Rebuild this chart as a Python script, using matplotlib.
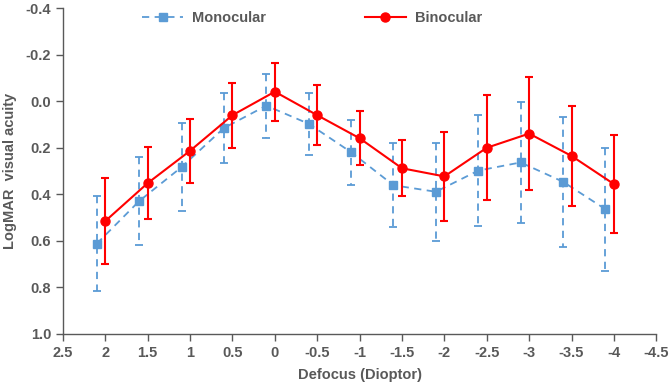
import matplotlib
matplotlib.use("Agg")
import matplotlib.pyplot as plt
from matplotlib.lines import Line2D
import numpy as np

plt.rcParams['font.family'] = ['Liberation Sans', 'DejaVu Sans']

defocus = [2, 1.5, 1, 0.5, 0, -0.5, -1, -1.5, -2, -2.5, -3, -3.5, -4]
mono_mean = [0.612, 0.429, 0.283, 0.115, 0.019, 0.097, 0.219, 0.361, 0.389, 0.298, 0.263, 0.346, 0.464]
mono_err = [0.205, 0.19, 0.19, 0.15, 0.138, 0.133, 0.14, 0.18, 0.21, 0.24, 0.26, 0.28, 0.265]
bino_mean = [0.515, 0.352, 0.213, 0.06, -0.041, 0.06, 0.159, 0.288, 0.323, 0.2, 0.139, 0.235, 0.356]
bino_err = [0.185, 0.156, 0.138, 0.14, 0.125, 0.128, 0.115, 0.12, 0.192, 0.226, 0.242, 0.214, 0.212]
xticks = [2.5, 2, 1.5, 1, 0.5, 0, -0.5, -1, -1.5, -2, -2.5, -3, -3.5, -4, -4.5]
yticks = [-0.4, -0.2, 0.0, 0.2, 0.4, 0.6, 0.8, 1.0]

mono_x = np.array(defocus) + 0.1

fig = plt.figure(figsize=(6.69, 3.87), dpi=100)
ax = fig.add_axes([0.094, 0.137, 0.887, 0.842])

blue = '#5B9BD5'
red = '#FF0000'
gray = '#595959'
dash = (0, (4, 3))

eb1 = ax.errorbar(mono_x, mono_mean, yerr=mono_err, color=blue, marker='s', markersize=6,
                  linestyle=dash, linewidth=1.3, capsize=3, elinewidth=1.3,
                  capthick=1.3, zorder=2)
eb1[2][0].set_linestyle(dash)
eb2 = ax.errorbar(defocus, bino_mean, yerr=bino_err, color=red, marker='o', markersize=6.5,
                  linestyle='-', linewidth=1.5, capsize=3, elinewidth=1.5, capthick=1.5,
                  zorder=3)

ax.set_xlim(2.5, -4.5)
ax.set_ylim(1.0, -0.4)
ax.set_xticks(xticks)
ax.set_xticklabels([f"{t:g}" for t in xticks])
ax.set_yticks(yticks)
ax.set_yticklabels([f"{t:.1f}" for t in yticks])

for s in ['top', 'right']:
    ax.spines[s].set_visible(False)
for s in ['left', 'bottom']:
    ax.spines[s].set_color(gray)
    ax.spines[s].set_linewidth(1.0)
ax.tick_params(axis='both', colors=gray, labelsize=10.5, length=5, direction='out', width=1.0)
for lbl in ax.get_xticklabels() + ax.get_yticklabels():
    lbl.set_fontweight('bold')
    lbl.set_color(gray)

ax.set_xlabel('Defocus (Dioptor)', fontsize=10.5, fontweight='bold', color=gray, labelpad=6)
ax.set_ylabel('LogMAR  visual acuity', fontsize=10.5, fontweight='bold', color=gray, labelpad=6)

handles = [
    Line2D([], [], color=blue, marker='s', markersize=6, linestyle=dash, linewidth=1.3),
    Line2D([], [], color=red, marker='o', markersize=6.5, linestyle='-', linewidth=1.5),
]
leg = ax.legend(handles, ['Monocular', 'Binocular'], loc='upper center',
                bbox_to_anchor=(0.42, 1.03), ncol=2, frameon=False,
                fontsize=10.5, handlelength=2.8, handletextpad=0.6, columnspacing=6.8)
for t in leg.get_texts():
    t.set_fontweight('bold')
    t.set_color(gray)

fig.savefig('out.png', dpi=100)
